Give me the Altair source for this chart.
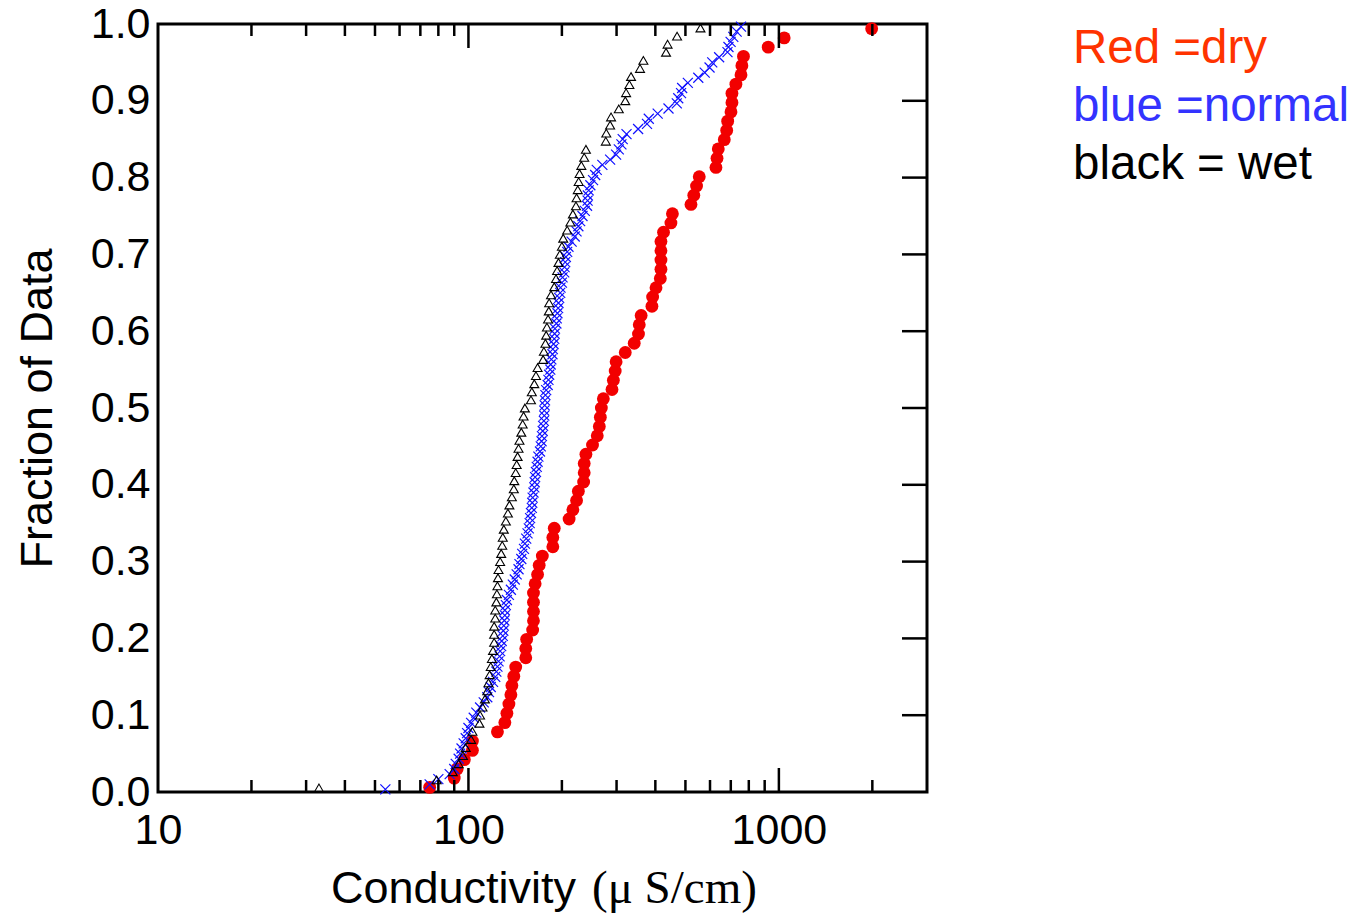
import altair as alt
import pandas as pd

# Conductivity values (uS/cm), one per plotted point
dry = [75, 90, 92, 97, 103, 103, 124, 131, 133, 135,
       137, 138, 140, 142, 153, 153, 154, 161, 162, 162,
       162, 162, 164, 167, 169, 173, 187, 187, 189, 211,
       217, 223, 226, 235, 236, 236, 239, 251, 260, 264,
       266, 268, 272, 290, 293, 297, 299, 320, 342, 353,
       355, 360, 390, 392, 402, 415, 417, 417, 417, 417,
       425, 449, 454, 521, 532, 543, 554, 627, 632, 638,
       667, 679, 684, 701, 706, 706, 727, 755, 760, 769,
       924, 1040, 1990]

normal = [54, 75, 80, 87, 90, 91, 93, 94, 95, 96.5,
          98, 99, 100, 102, 104, 106, 109, 112, 115, 116.5,
          118, 120, 122, 123, 124, 125, 126, 126.5, 127.5, 128,
          129, 129.5, 130, 130.5, 131, 131, 132, 133, 135, 137,
          139, 141, 143, 145, 146, 148, 149, 151, 152, 153.5,
          155, 156.5, 157.5, 158, 159, 160, 160.5, 161, 162, 163,
          163.5, 164, 165, 166, 167, 168, 170, 171, 172, 172.5,
          173.5, 174, 175, 175.5, 175.5, 176, 176.5, 177, 178, 180,
          181, 182, 183.5, 184, 185, 186.5, 187, 188, 189, 189.5,
          190, 192, 192.5, 193.5, 194.5, 195, 196, 197.5, 198, 200,
          201, 203.5, 204, 205, 206, 208, 210, 215, 220, 223,
          226, 229, 233, 237, 241, 242, 242.5, 244, 247, 252,
          256, 259, 270, 286, 299, 305, 311, 314, 323, 352,
          376, 381, 407, 441, 469, 474, 484, 488, 509, 550,
          577, 598, 610, 642, 683, 688, 699, 713, 731, 755]

wet = [33, 79, 89, 93, 96, 98, 102, 103, 108.5, 109,
       111, 113, 115, 116, 117, 118, 119, 120, 121, 121,
       121, 122, 122, 123, 123.5, 124, 124.5, 125, 126.5, 127.5,
       128.5, 129, 130, 132, 134, 135.5, 138, 140, 140.5, 142,
       143, 144, 145, 146, 148, 149.5, 150.5, 152, 159, 160,
       163, 165, 167, 174, 175, 177, 178, 179, 180.5, 181.5,
       182, 184.5, 189, 191.5, 193, 195, 197, 200, 202, 208,
       213, 217, 222, 223, 225, 226.5, 228, 231, 236, 239,
       277, 278, 286, 288, 305, 320, 322, 330, 334, 357,
       366, 433, 438, 470, 559]

x_label_values = [10, 100, 1000]
y_label_values = [0.0, 0.1, 0.2, 0.3, 0.4, 0.5, 0.6, 0.7, 0.8, 0.9, 1.0]
x_minor_ticks = [20, 30, 40, 50, 60, 70, 80, 90, 200, 300, 400, 500, 600, 700, 800, 900, 2000]
x_major_ticks = [100, 1000]
y_ticks = [0.1, 0.2, 0.3, 0.4, 0.5, 0.6, 0.7, 0.8, 0.9]

W, H = 769, 768
FONT = "Liberation Sans"

xscale = alt.Scale(type="log", domain=[10, 3000], nice=False)
yscale = alt.Scale(domain=[0, 1], nice=False)

xaxis = alt.Axis(values=x_label_values, format="d", labelFontSize=43, labelFont=FONT,
                 labelColor="black", ticks=False, domain=False, grid=False, title=None,
                 labelPadding=17, labelFlush=False)
yaxis = alt.Axis(values=y_label_values, format=".1f", labelFontSize=43, labelFont=FONT,
                 labelColor="black", ticks=False, domain=False, grid=False,
                 title="Fraction of Data", titleFontSize=45, titleFont=FONT,
                 titleFontWeight="normal", titleColor="black", labelPadding=8,
                 titleX=-121, titleY=H / 2, titleAngle=270, titleBaseline="middle",
                 titleAlign="center", labelFlush=False)


def ecdf(values):
    return (alt.Chart(pd.DataFrame({"v": values}))
            .transform_window(r="row_number()", sort=[alt.SortField("v")])
            .transform_joinaggregate(n="count()")
            .transform_calculate(f="(datum.r - 0.5) / datum.n"))


enc = dict(x=alt.X("v:Q", scale=xscale, axis=xaxis),
           y=alt.Y("f:Q", scale=yscale, axis=yaxis))

red_pts = ecdf(dry).mark_circle(size=165, color="#f20000", opacity=1).encode(**enc)
blue_pts = ecdf(normal).mark_point(shape="M-1,-1L1,1M-1,1L1,-1", size=100, filled=False,
                                   color="#1010ff", strokeWidth=1.2, opacity=1).encode(**enc)
black_pts = ecdf(wet).mark_point(shape="triangle-up", size=80, filled=False,
                                 color="black", strokeWidth=1.1, opacity=1).encode(**enc)

def xticks(vals, y0, y1):
    return alt.Chart(pd.DataFrame({"v": vals})).mark_rule(color="black", strokeWidth=2.5).encode(
        x=alt.X("v:Q", scale=xscale, axis=xaxis), y=alt.value(y0), y2=alt.value(y1))

tick_layers = [
    xticks(x_minor_ticks, H, H - 12), xticks(x_minor_ticks, 0, 12),
    xticks(x_major_ticks, H, H - 24), xticks(x_major_ticks, 0, 24),
    alt.Chart(pd.DataFrame({"t": y_ticks})).mark_rule(color="black", strokeWidth=2.5).encode(
        y=alt.Y("t:Q", scale=yscale, axis=yaxis), x=alt.value(W), x2=alt.value(W - 25)),
]

def label(txt, x, y, color, size, font=FONT):
    return alt.Chart(pd.DataFrame({"t": [txt]})).mark_text(
        align="left", baseline="alphabetic", font=font, fontSize=size, color=color
    ).encode(text="t:N", x=alt.value(x), y=alt.value(y))

texts = [
    label("Conductivity", 173, 879, "black", 45),
    label("(\u03bc S/cm)", 434, 879, "black", 47, font="Liberation Serif"),
    label("Red =dry", 915, 39, "#ff3300", 47.5),
    label("blue =normal", 915, 97, "#3333ff", 47.5),
    label("black = wet", 915, 155, "black", 47.5),
]

chart = alt.layer(red_pts, blue_pts, black_pts, *tick_layers, *texts).properties(
    width=W, height=H,
    padding={"left": 158, "top": 24, "right": 1364 - 158 - W, "bottom": 917 - 24 - H},
    autosize=alt.AutoSizeParams(type="none"),
    background="white",
).configure_view(stroke="black", strokeWidth=3)

chart.save("out.html", embed_options={"renderer": "svg", "actions": False})
